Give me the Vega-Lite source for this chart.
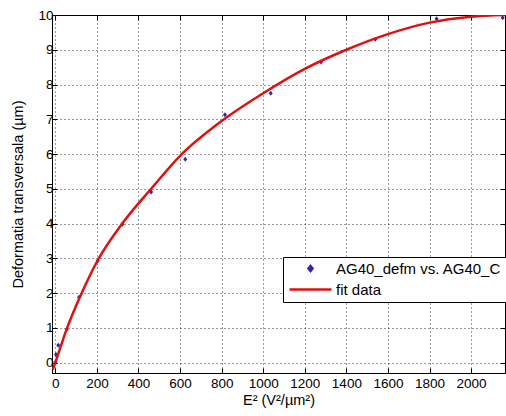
{
  "$schema": "https://vega.github.io/schema/vega-lite/v6.json",
  "autosize": "none",
  "width": 453,
  "height": 358,
  "padding": {"left": 52, "top": 15, "right": 1, "bottom": 43},
  "background": "white",
  "config": {
    "font": "Liberation Sans",
    "view": {"stroke": "#000000", "strokeWidth": 1},
    "axis": {
      "labelFont": "Liberation Sans",
      "labelFontSize": 13.5,
      "labelColor": "#000000",
      "labelOverlap": false,
      "titleFont": "Liberation Sans",
      "titleFontSize": 14.5,
      "titleFontWeight": "normal",
      "titleColor": "#000000",
      "domainColor": "#000000",
      "tickColor": "#000000",
      "tickSize": -5,
      "gridColor": "#000000",
      "gridDash": [1, 3],
      "gridOpacity": 0.8
    }
  },
  "datasets": {
    "pts": [
      {"E2": 0, "def": 0.0},
      {"E2": 3, "def": 0.23},
      {"E2": 14, "def": 0.5},
      {"E2": 55, "def": 0.95},
      {"E2": 114, "def": 1.88},
      {"E2": 204, "def": 2.93},
      {"E2": 322, "def": 3.98},
      {"E2": 461, "def": 4.91},
      {"E2": 625, "def": 5.85},
      {"E2": 816, "def": 7.13},
      {"E2": 1036, "def": 7.75},
      {"E2": 1278, "def": 8.65},
      {"E2": 1539, "def": 9.3},
      {"E2": 1834, "def": 9.89},
      {"E2": 2152, "def": 9.92}
    ],
    "fit": [
      {"E2": -12, "def": -0.2},
      {"E2": 0, "def": 0.0},
      {"E2": 55, "def": 0.97},
      {"E2": 127, "def": 2.0},
      {"E2": 200, "def": 2.9},
      {"E2": 322, "def": 4.0},
      {"E2": 461, "def": 5.0},
      {"E2": 600, "def": 5.95},
      {"E2": 800, "def": 6.95},
      {"E2": 1000, "def": 7.75},
      {"E2": 1200, "def": 8.45},
      {"E2": 1400, "def": 9.0},
      {"E2": 1600, "def": 9.45},
      {"E2": 1800, "def": 9.78},
      {"E2": 2000, "def": 9.95},
      {"E2": 2163, "def": 10.0}
    ]
  },
  "resolve": {"axis": {"x": "independent", "y": "independent"}},
  "layer": [
    {
      "data": {"name": "pts"},
      "transform": [{"calculate": "'AG40_defm vs. AG40_C'", "as": "series"}],
      "mark": {"type": "point", "filled": true, "size": 100, "opacity": 1},
      "encoding": {
        "x": {
          "field": "E2", "type": "quantitative",
          "scale": {"domain": [-16, 2163], "nice": false, "zero": false},
          "axis": {"title": "E² (V²/µm²)", "values": [0, 200, 400, 600, 800, 1000, 1200, 1400, 1600, 1800, 2000], "format": "d", "titlePadding": 4, "labelPadding": 8}
        },
        "y": {
          "field": "def", "type": "quantitative",
          "scale": {"domain": [-0.3, 10], "nice": false, "zero": false},
          "axis": {"title": "Deformatia transversala (µm)", "values": [0, 1, 2, 3, 4, 5, 6, 7, 8, 9, 10], "titlePadding": 12, "labelPadding": 4}
        },
        "color": {
          "field": "series", "type": "nominal",
          "scale": {"domain": ["AG40_defm vs. AG40_C", "fit data"], "range": ["#3a22a8", "#e01010"]},
          "legend": {
            "title": null, "orient": "none", "legendX": 231, "legendY": 242,
            "strokeColor": "#000000", "fillColor": "white", "padding": 4,
            "labelFont": "Liberation Sans", "labelFontSize": 15, "labelColor": "#000000", "labelLimit": 400,
            "symbolSize": 100, "symbolOffset": 16, "labelOffset": 18, "rowPadding": 5,
            "symbolStrokeWidth": 2.5
          }
        },
        "shape": {
          "field": "series", "type": "nominal",
          "scale": {"domain": ["AG40_defm vs. AG40_C", "fit data"], "range": ["M0,-0.5L0.4,0L0,0.5L-0.4,0Z", "M-4.2,0L4.2,0"]},
          "legend": null
        }
      }
    },
    {
      "data": {"name": "fit"},
      "transform": [{"calculate": "'fit data'", "as": "series"}],
      "mark": {"type": "line", "interpolate": "monotone", "strokeWidth": 2.5, "clip": true},
      "encoding": {
        "x": {"field": "E2", "type": "quantitative", "axis": null},
        "y": {"field": "def", "type": "quantitative", "axis": null},
        "color": {"field": "series", "type": "nominal"}
      }
    },
    {
      "data": {"name": "pts"},
      "mark": {"type": "point", "opacity": 0},
      "encoding": {
        "x": {
          "field": "E2", "type": "quantitative",
          "axis": {"orient": "top", "title": null, "labels": false, "grid": false, "domain": false, "values": [0, 200, 400, 600, 800, 1000, 1200, 1400, 1600, 1800, 2000]}
        },
        "y": {
          "field": "def", "type": "quantitative",
          "axis": {"orient": "right", "title": null, "labels": false, "grid": false, "domain": false, "values": [0, 1, 2, 3, 4, 5, 6, 7, 8, 9, 10]}
        }
      }
    }
  ]
}
